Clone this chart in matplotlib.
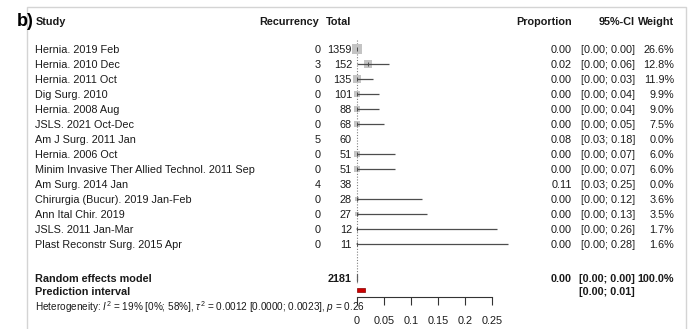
import matplotlib
matplotlib.use("Agg")
import matplotlib.pyplot as plt
from matplotlib import transforms
from matplotlib.patches import Rectangle, Polygon
import numpy as np

plt.rcParams['font.family'] = ['Liberation Sans', 'DejaVu Sans']
plt.rcParams['mathtext.fontset'] = 'custom'
plt.rcParams['mathtext.rm'] = 'Liberation Sans'
plt.rcParams['mathtext.it'] = 'Liberation Sans:italic'
plt.rcParams['mathtext.bf'] = 'Liberation Sans:bold'

# ---- study-level data ----
studies = [
    "Hernia. 2019 Feb",
    "Hernia. 2010 Dec",
    "Hernia. 2011 Oct",
    "Dig Surg. 2010",
    "Hernia. 2008 Aug",
    "JSLS. 2021 Oct-Dec",
    "Am J Surg. 2011 Jan",
    "Hernia. 2006 Oct",
    "Minim Invasive Ther Allied Technol. 2011 Sep",
    "Am Surg. 2014 Jan",
    "Chirurgia (Bucur). 2019 Jan-Feb",
    "Ann Ital Chir. 2019",
    "JSLS. 2011 Jan-Mar",
    "Plast Reconstr Surg. 2015 Apr",
]
recurrency = [0, 3, 0, 0, 0, 0, 5, 0, 0, 4, 0, 0, 0, 0]
total = [1359, 152, 135, 101, 88, 68, 60, 51, 51, 38, 28, 27, 12, 11]
proportion = [0.00, 0.02, 0.00, 0.00, 0.00, 0.00, 0.08, 0.00, 0.00, 0.11, 0.00, 0.00, 0.00, 0.00]
ci_low = [0.00, 0.00, 0.00, 0.00, 0.00, 0.00, 0.03, 0.00, 0.00, 0.03, 0.00, 0.00, 0.00, 0.00]
ci_high = [0.00, 0.06, 0.03, 0.04, 0.04, 0.05, 0.18, 0.07, 0.07, 0.25, 0.12, 0.13, 0.26, 0.28]
weight = [26.6, 12.8, 11.9, 9.9, 9.0, 7.5, 0.0, 6.0, 6.0, 0.0, 3.6, 3.5, 1.7, 1.6]

# ---- pooled results ----
pooled_total = 2181
pooled_est, pooled_lo, pooled_hi = 0.00, 0.00, 0.00
pooled_weight = 100.0
pred_lo, pred_hi = 0.00, 0.014
heterogeneity = (r"Heterogeneity: $I^2$ = 19% [0%; 58%], $\tau^2$ = 0.0012 "
                 r"[0.0000; 0.0023], $p$ = 0.26")

xticks = [0, 0.05, 0.1, 0.15, 0.2, 0.25]
xtick_labels = ["0", "0.05", "0.1", "0.15", "0.2", "0.25"]

# ---- canvas ----
W, H = 693, 329
fig = plt.figure(figsize=(W / 100, H / 100), dpi=100)
fig.patch.set_facecolor("white")
ax = fig.add_axes([0, 0, 1, 1])
ax.set_facecolor("none")

x0_px, scale_px = 357, 540          # pixel of proportion 0, pixels per unit
row0_px, row_px = 49, 15            # pixel of first study row, row spacing
ax.set_xlim(-x0_px / scale_px, (W - x0_px) / scale_px)
ax.set_ylim((H - row0_px) / row_px, -row0_px / row_px)


def row_of(px):
    return (px - row0_px) / row_px


tr = transforms.blended_transform_factory(fig.transFigure, ax.transData)
FS = 7.8
TXT = "#1a1a1a"


def put(xpx, y, s, ha="right", bold=False, size=FS):
    ax.text(xpx / W, y, s, transform=tr, ha=ha, va="center_baseline",
            fontsize=size, fontweight="bold" if bold else "normal", color=TXT)


# outer frame
fig.patches.append(Rectangle((27 / W, -0.05), (686 - 27) / W, 1 - 7 / H + 0.05,
                             transform=fig.transFigure, fill=False,
                             edgecolor="#d4d4d4", lw=1.0))
fig.text(17 / W, 1 - 21 / H, "b)", ha="left", va="center", fontsize=13,
         fontweight="bold", color="black")

# header
yh = row_of(21)
put(36, yh, "Study", ha="left", bold=True)
put(319, yh, "Recurrency", bold=True)
put(351, yh, "Total", bold=True)
put(572, yh, "Proportion", bold=True)
put(635, yh, "95%-CI", bold=True)
put(674, yh, "Weight", bold=True)

# study rows
for i, name in enumerate(studies):
    put(35, i, name, ha="left")
    put(321, i, f"{recurrency[i]}")
    put(352, i, f"{total[i]}")
    put(572, i, f"{proportion[i]:.2f}")
    put(635, i, f"[{ci_low[i]:.2f}; {ci_high[i]:.2f}]")
    put(674, i, f"{weight[i]:.1f}%")

rows = np.arange(len(studies))
w = np.array(weight)
shown = w > 0
side_px = 2.13 * np.sqrt(w[shown])
ax.scatter(np.array(proportion)[shown], rows[shown], marker="s",
           s=(side_px * 0.72) ** 2, color="#c4c4c4", edgecolors="none", zorder=2)
ax.hlines(rows[shown], np.array(ci_low)[shown], np.array(ci_high)[shown],
          color="#4d4d4d", lw=0.9, zorder=3)
ax.scatter(np.array(proportion)[shown], rows[shown], marker="|", s=6,
           color="#4d4d4d", linewidths=0.7, zorder=4)

# reference line at 0
ax.plot([0, 0], [row_of(40), row_of(284)], ls=(0, (1, 1.5)), color="#808080",
        lw=0.8, zorder=1)

# pooled estimate
yp = row_of(277.5)
put(35, yp, "Random effects model", ha="left", bold=True)
put(352, yp, f"{pooled_total}", bold=True)
put(572, yp, f"{pooled_est:.2f}", bold=True)
put(635, yp, f"[{pooled_lo:.2f}; {pooled_hi:.2f}]", bold=True)
put(674, yp, f"{pooled_weight:.1f}%", bold=True)
hd = 3.5 / row_px
ax.add_patch(Polygon([(pooled_lo, yp), (pooled_est, yp - hd), (pooled_hi, yp),
                      (pooled_est, yp + hd)], closed=True, facecolor="#b0b0b0",
                     edgecolor="#606060", lw=0.8, zorder=3))

# prediction interval
yq = row_of(291)
put(35, yq, "Prediction interval", ha="left", bold=True)
put(635, yq, f"[{pred_lo:.2f}; {pred_hi:.2f}]", bold=True)
hr = 2 / row_px
ax.add_patch(Rectangle((pred_lo, row_of(290) - hr), pred_hi - pred_lo, 2 * hr,
                       facecolor="#cc0000", edgecolor="#8a0000", lw=0.5, zorder=3))

put(35, row_of(305.5), heterogeneity, ha="left", size=7.2)

# x axis
for side in ("left", "right", "top"):
    ax.spines[side].set_visible(False)
ax.spines["bottom"].set_position(("data", row_of(296.7)))
ax.spines["bottom"].set_bounds(0, 0.25)
ax.spines["bottom"].set_color("#333333")
ax.spines["bottom"].set_linewidth(0.8)
ax.set_xticks(xticks)
ax.set_xticklabels(xtick_labels)
ax.tick_params(axis="x", direction="out", length=5.8, width=0.8, pad=8,
               labelsize=FS, colors="#333333", labelcolor=TXT)
ax.yaxis.set_visible(False)

fig.savefig("out.png", dpi=100, facecolor="white")
